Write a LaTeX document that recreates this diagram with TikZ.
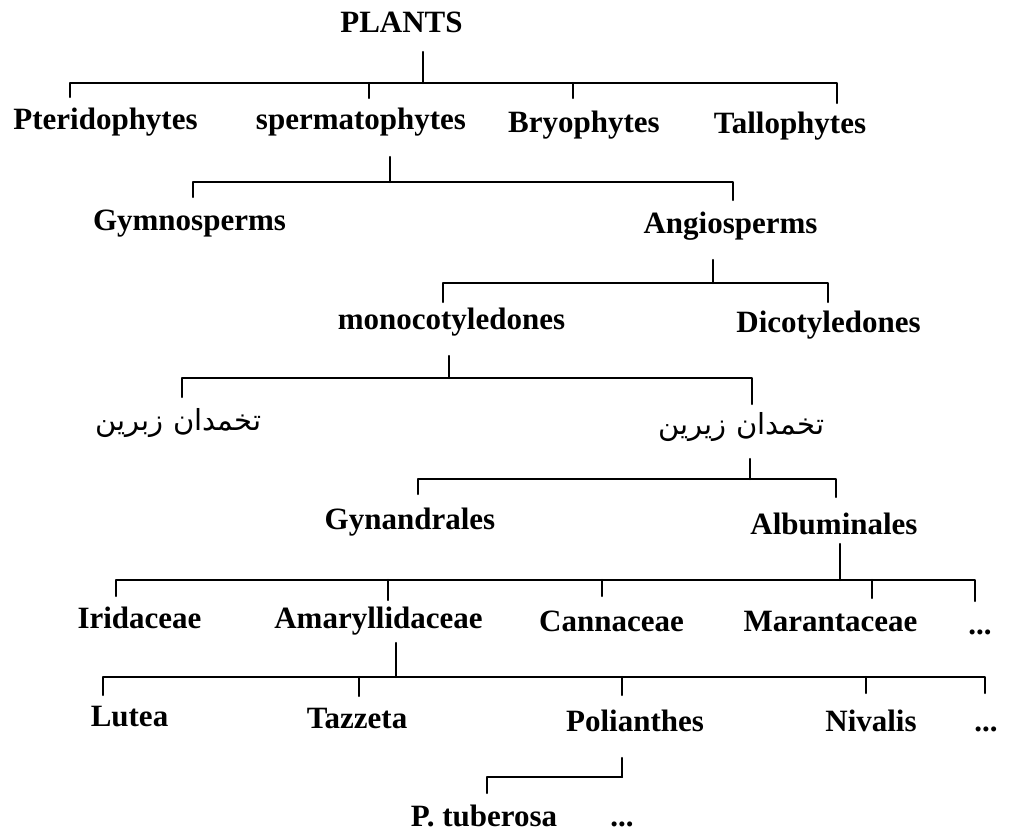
\documentclass[tikz,border=0pt]{standalone}
\usepackage{fontspec}
\setmainfont{Liberation Serif}
\newfontfamily\persfont[Script=Arabic]{DejaVu Sans}
\TeXXeTstate=1
\begin{document}
\begin{tikzpicture}[x=1pt,y=-1pt,
  lbl/.style={font=\bfseries\fontsize{31}{31}\selectfont, inner sep=0pt, outer sep=0pt, anchor=base},
  fa/.style={font=\persfont\fontsize{29}{29}\selectfont, inner sep=0pt, outer sep=0pt, anchor=base},
  br/.style={line width=2.2pt, line cap=round, line join=round}]
\useasboundingbox (0,0) rectangle (1011,837);

% labels
\node[lbl] (plants) at (401.5,33) {PLANTS};
\node[lbl] (pter) at (105.5,130) {Pteridophytes};
\node[lbl] (sperm) at (361,130) {spermatophytes};
\node[lbl] (bryo) at (584,133) {Bryophytes};
\node[lbl] (tallo) at (790,134) {Tallophytes};
\node[lbl] (gymno) at (189.5,230) {Gymnosperms};
\node[lbl] (angio) at (730.5,233) {Angiosperms};
\node[lbl] (mono) at (451.5,329) {monocotyledones};
\node[lbl] (dico) at (828.5,332) {Dicotyledones};
\node[fa] (ovl) at (178.5,430) {\beginR تخمدان زبرین\endR};
\node[fa] (ovr) at (741.5,434) {\beginR تخمدان زیرین\endR};
\node[lbl] (gyn) at (410,529) {Gynandrales};
\node[lbl] (alb) at (834,534) {Albuminales};
\node[lbl] (irid) at (139.5,628) {Iridaceae};
\node[lbl] (amar) at (378.5,628) {Amaryllidaceae};
\node[lbl] (canna) at (611.5,631) {Cannaceae};
\node[lbl] (maran) at (830.5,631) {Marantaceae};
\node[lbl] (dotsa) at (980,634) {...};
\node[lbl] (lutea) at (129.5,726) {Lutea};
\node[lbl] (tazz) at (357,728) {Tazzeta};
\node[lbl] (poli) at (635,731) {Polianthes};
\node[lbl] (niva) at (871,731) {Nivalis};
\node[lbl] (dotsb) at (986,731) {...};
\node[lbl] (ptub) at (484,826) {P. tuberosa};
\node[lbl] (dotsc) at (622,826) {...};

% bracket 1: PLANTS
\coordinate (s1) at (423,52);   \coordinate (j1) at (423,83);
\coordinate (t1a) at (70,97);   \coordinate (t1b) at (369,98);
\coordinate (t1c) at (573,98);  \coordinate (t1d) at (837,103);
\draw[br] (s1) -- (j1);
\draw[br] (t1a) |- (j1) -| (t1d);
\draw[br] (t1b) -- (t1b |- j1);
\draw[br] (t1c) -- (t1c |- j1);

% bracket 2: spermatophytes
\coordinate (s2) at (390,157);  \coordinate (j2) at (390,182);
\coordinate (t2a) at (193,197); \coordinate (t2b) at (733,200);
\draw[br] (s2) -- (j2);
\draw[br] (t2a) |- (j2) -| (t2b);

% bracket 3: Angiosperms
\coordinate (s3) at (713,260);  \coordinate (j3) at (713,283);
\coordinate (t3a) at (443,302); \coordinate (t3b) at (828,302);
\draw[br] (s3) -- (j3);
\draw[br] (t3a) |- (j3) -| (t3b);

% bracket 4: monocotyledones
\coordinate (s4) at (449,356);  \coordinate (j4) at (449,378);
\coordinate (t4a) at (182,397); \coordinate (t4b) at (752,404);
\draw[br] (s4) -- (j4);
\draw[br] (t4a) |- (j4) -| (t4b);

% bracket 5
\coordinate (s5) at (750,459);  \coordinate (j5) at (750,479);
\coordinate (t5a) at (418,494); \coordinate (t5b) at (836,497);
\draw[br] (s5) -- (j5);
\draw[br] (t5a) |- (j5) -| (t5b);

% bracket 6: Albuminales
\coordinate (s6) at (840,544);  \coordinate (j6) at (840,580);
\coordinate (t6a) at (116,596); \coordinate (t6b) at (388,600);
\coordinate (t6c) at (602,596); \coordinate (t6d) at (872,598);
\coordinate (t6e) at (975,601);
\draw[br] (s6) -- (j6);
\draw[br] (t6a) |- (j6) -| (t6e);
\draw[br] (t6b) -- (t6b |- j6);
\draw[br] (t6c) -- (t6c |- j6);
\draw[br] (t6d) -- (t6d |- j6);

% bracket 7: Amaryllidaceae
\coordinate (s7) at (396,643);  \coordinate (j7) at (396,677);
\coordinate (t7a) at (103,695); \coordinate (t7b) at (359,696);
\coordinate (t7c) at (622,695); \coordinate (t7d) at (866,693);
\coordinate (t7e) at (985,693);
\draw[br] (s7) -- (j7);
\draw[br] (t7a) |- (j7) -| (t7e);
\draw[br] (t7b) -- (t7b |- j7);
\draw[br] (t7c) -- (t7c |- j7);
\draw[br] (t7d) -- (t7d |- j7);

% bracket 8: Polianthes
\coordinate (s8) at (622,758);  \coordinate (j8) at (622,777);
\coordinate (t8a) at (487,793);
\draw[br] (s8) -- (j8);
\draw[br] (t8a) |- (j8);
\end{tikzpicture}
\end{document}
